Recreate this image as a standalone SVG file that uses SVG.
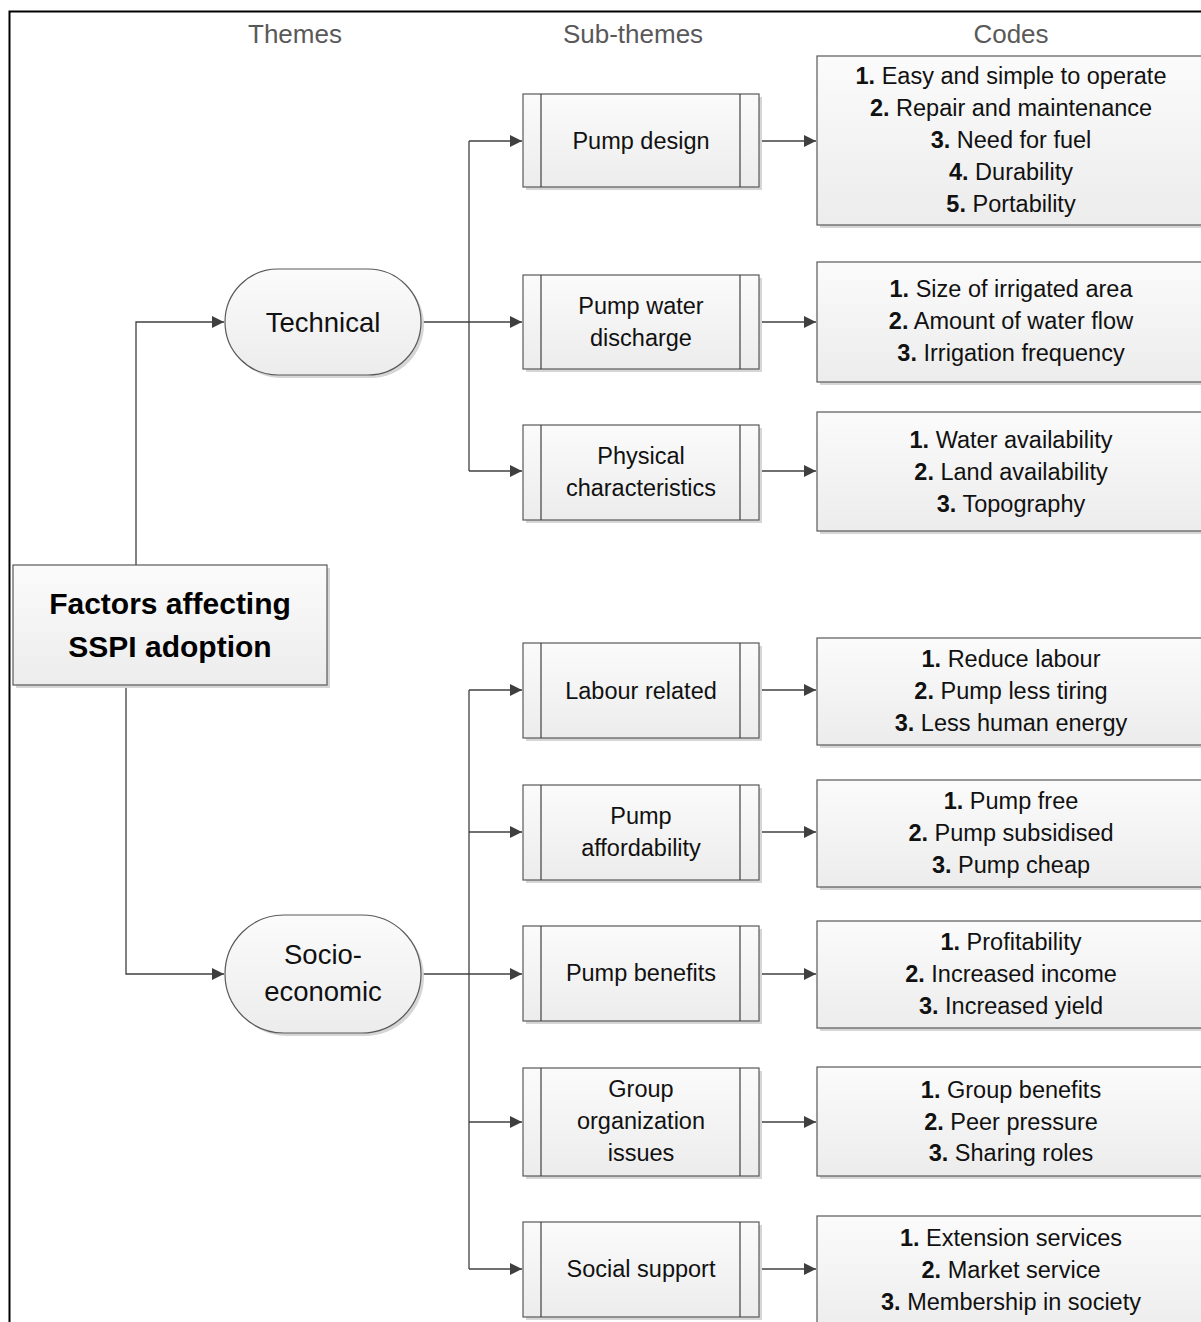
<svg xmlns="http://www.w3.org/2000/svg" width="1201" height="1322" viewBox="0 0 1201 1322">
  <defs>
    <linearGradient id="fillGrad" x1="0" y1="0" x2="0" y2="1">
      <stop offset="0" stop-color="#fbfbfb"/>
      <stop offset="1" stop-color="#ececec"/>
    </linearGradient>
    <marker id="arrow" viewBox="0 0 12 12" refX="12" refY="6" markerWidth="12" markerHeight="12" markerUnits="userSpaceOnUse" orient="auto">
      <path d="M0,0 L12,6 L0,12 Z" fill="#3f3f3f"/>
    </marker>
    <style>
      .box { fill: url(#fillGrad); stroke: #595959; stroke-width: 1.2; }
      .shadow { fill: #d6d6d6; }
      .div { stroke: #404040; stroke-width: 1.2; }
      .conn { fill: none; stroke: #404040; stroke-width: 1.3; }
      .hdr { font-family: "Liberation Sans", Arial, sans-serif; font-size: 26px; fill: #595959; text-anchor: middle; }
      .lbl { font-family: "Liberation Sans", Arial, sans-serif; font-size: 23.5px; fill: #111; text-anchor: middle; }
      .theme { font-family: "Liberation Sans", Arial, sans-serif; font-size: 27.5px; fill: #111; text-anchor: middle; }
      .title { font-family: "Liberation Sans", Arial, sans-serif; font-size: 30px; font-weight: bold; fill: #000; text-anchor: middle; }
      .num { font-weight: bold; }
    </style>
  </defs>

  <rect width="1201" height="1322" fill="#ffffff"/>

  <!-- outer frame -->
  <path d="M1210,11.5 H9.5 V1330" fill="none" stroke="#000" stroke-width="2"/>

  <!-- column headers -->
  <text class="hdr" x="295" y="43">Themes</text>
  <text class="hdr" x="633" y="43">Sub-themes</text>
  <text class="hdr" x="1011" y="43">Codes</text>

  <!-- connectors -->
  <g id="connectors">
    <path class="conn" d="M136,565 V322 H224" marker-end="url(#arrow)"/>
    <path class="conn" d="M126,685 V974 H224" marker-end="url(#arrow)"/>

    <path class="conn" d="M421,322 H469"/>
    <path class="conn" d="M469,141 V471"/>
    <path class="conn" d="M469,141 H522" marker-end="url(#arrow)"/>
    <path class="conn" d="M469,322 H522" marker-end="url(#arrow)"/>
    <path class="conn" d="M469,471 H522" marker-end="url(#arrow)"/>

    <path class="conn" d="M421,974 H469"/>
    <path class="conn" d="M469,690 V1269"/>
    <path class="conn" d="M469,690 H522" marker-end="url(#arrow)"/>
    <path class="conn" d="M469,832 H522" marker-end="url(#arrow)"/>
    <path class="conn" d="M469,974 H522" marker-end="url(#arrow)"/>
    <path class="conn" d="M469,1122 H522" marker-end="url(#arrow)"/>
    <path class="conn" d="M469,1269 H522" marker-end="url(#arrow)"/>

    <path class="conn" d="M759,141 H816" marker-end="url(#arrow)"/>
    <path class="conn" d="M759,322 H816" marker-end="url(#arrow)"/>
    <path class="conn" d="M759,471 H816" marker-end="url(#arrow)"/>
    <path class="conn" d="M759,690 H816" marker-end="url(#arrow)"/>
    <path class="conn" d="M759,832 H816" marker-end="url(#arrow)"/>
    <path class="conn" d="M759,974 H816" marker-end="url(#arrow)"/>
    <path class="conn" d="M759,1122 H816" marker-end="url(#arrow)"/>
    <path class="conn" d="M759,1269 H816" marker-end="url(#arrow)"/>
  </g>

  <!-- root -->
  <g id="root">
    <rect class="shadow" x="16" y="568" width="314" height="120"/>
    <rect class="box" x="13" y="565" width="314" height="120"/>
    <text class="title" x="170" y="614">Factors affecting</text>
    <text class="title" x="170" y="657">SSPI adoption</text>
  </g>

  <!-- themes -->
  <g id="theme-technical">
    <rect class="shadow" x="228" y="272" width="196" height="106" rx="53"/>
    <rect class="box" x="225" y="269" width="196" height="106" rx="53"/>
    <text class="theme" x="323" y="332">Technical</text>
  </g>
  <g id="theme-socio">
    <rect class="shadow" x="228" y="918" width="196" height="118" rx="59"/>
    <rect class="box" x="225" y="915" width="196" height="118" rx="59"/>
    <text class="theme" x="323" y="964">Socio-</text>
    <text class="theme" x="323" y="1001">economic</text>
  </g>

  <!-- sub-themes -->
  <g id="sub-pump-design">
    <rect class="shadow" x="526" y="97" width="236" height="93"/>
    <rect class="box" x="523" y="94" width="236" height="93"/>
    <line class="div" x1="541" y1="94" x2="541" y2="187"/>
    <line class="div" x1="740" y1="94" x2="740" y2="187"/>
    <text class="lbl" x="641" y="149">Pump design</text>
  </g>
  <g id="sub-water-discharge">
    <rect class="shadow" x="526" y="278" width="236" height="94"/>
    <rect class="box" x="523" y="275" width="236" height="94"/>
    <line class="div" x1="541" y1="275" x2="541" y2="369"/>
    <line class="div" x1="740" y1="275" x2="740" y2="369"/>
    <text class="lbl" x="641" y="314">Pump water</text>
    <text class="lbl" x="641" y="346">discharge</text>
  </g>
  <g id="sub-physical">
    <rect class="shadow" x="526" y="428" width="236" height="95"/>
    <rect class="box" x="523" y="425" width="236" height="95"/>
    <line class="div" x1="541" y1="425" x2="541" y2="520"/>
    <line class="div" x1="740" y1="425" x2="740" y2="520"/>
    <text class="lbl" x="641" y="464">Physical</text>
    <text class="lbl" x="641" y="496">characteristics</text>
  </g>
  <g id="sub-labour">
    <rect class="shadow" x="526" y="646" width="236" height="95"/>
    <rect class="box" x="523" y="643" width="236" height="95"/>
    <line class="div" x1="541" y1="643" x2="541" y2="738"/>
    <line class="div" x1="740" y1="643" x2="740" y2="738"/>
    <text class="lbl" x="641" y="699">Labour related</text>
  </g>
  <g id="sub-affordability">
    <rect class="shadow" x="526" y="788" width="236" height="95"/>
    <rect class="box" x="523" y="785" width="236" height="95"/>
    <line class="div" x1="541" y1="785" x2="541" y2="880"/>
    <line class="div" x1="740" y1="785" x2="740" y2="880"/>
    <text class="lbl" x="641" y="824">Pump</text>
    <text class="lbl" x="641" y="856">affordability</text>
  </g>
  <g id="sub-benefits">
    <rect class="shadow" x="526" y="929" width="236" height="95"/>
    <rect class="box" x="523" y="926" width="236" height="95"/>
    <line class="div" x1="541" y1="926" x2="541" y2="1021"/>
    <line class="div" x1="740" y1="926" x2="740" y2="1021"/>
    <text class="lbl" x="641" y="981">Pump benefits</text>
  </g>
  <g id="sub-group">
    <rect class="shadow" x="526" y="1071" width="236" height="108"/>
    <rect class="box" x="523" y="1068" width="236" height="108"/>
    <line class="div" x1="541" y1="1068" x2="541" y2="1176"/>
    <line class="div" x1="740" y1="1068" x2="740" y2="1176"/>
    <text class="lbl" x="641" y="1097">Group</text>
    <text class="lbl" x="641" y="1129">organization</text>
    <text class="lbl" x="641" y="1161">issues</text>
  </g>
  <g id="sub-social">
    <rect class="shadow" x="526" y="1225" width="236" height="95"/>
    <rect class="box" x="523" y="1222" width="236" height="95"/>
    <line class="div" x1="541" y1="1222" x2="541" y2="1317"/>
    <line class="div" x1="740" y1="1222" x2="740" y2="1317"/>
    <text class="lbl" x="641" y="1277">Social support</text>
  </g>

  <!-- codes -->
  <g id="codes-design">
    <rect class="shadow" x="820" y="59" width="400" height="169"/>
    <rect class="box" x="817" y="56" width="400" height="169"/>
    <text class="lbl" x="1011" y="84"><tspan class="num">1.</tspan> Easy and simple to operate</text>
    <text class="lbl" x="1011" y="116"><tspan class="num">2.</tspan> Repair and maintenance</text>
    <text class="lbl" x="1011" y="148"><tspan class="num">3.</tspan> Need for fuel</text>
    <text class="lbl" x="1011" y="180"><tspan class="num">4.</tspan> Durability</text>
    <text class="lbl" x="1011" y="212"><tspan class="num">5.</tspan> Portability</text>
  </g>
  <g id="codes-discharge">
    <rect class="shadow" x="820" y="265" width="400" height="120"/>
    <rect class="box" x="817" y="262" width="400" height="120"/>
    <text class="lbl" x="1011" y="297"><tspan class="num">1.</tspan> Size of irrigated area</text>
    <text class="lbl" x="1011" y="329"><tspan class="num">2.</tspan> Amount of water flow</text>
    <text class="lbl" x="1011" y="361"><tspan class="num">3.</tspan> Irrigation frequency</text>
  </g>
  <g id="codes-physical">
    <rect class="shadow" x="820" y="415" width="400" height="119"/>
    <rect class="box" x="817" y="412" width="400" height="119"/>
    <text class="lbl" x="1011" y="448"><tspan class="num">1.</tspan> Water availability</text>
    <text class="lbl" x="1011" y="480"><tspan class="num">2.</tspan> Land availability</text>
    <text class="lbl" x="1011" y="512"><tspan class="num">3.</tspan> Topography</text>
  </g>
  <g id="codes-labour">
    <rect class="shadow" x="820" y="641" width="400" height="107"/>
    <rect class="box" x="817" y="638" width="400" height="107"/>
    <text class="lbl" x="1011" y="667"><tspan class="num">1.</tspan> Reduce labour</text>
    <text class="lbl" x="1011" y="699"><tspan class="num">2.</tspan> Pump less tiring</text>
    <text class="lbl" x="1011" y="731"><tspan class="num">3.</tspan> Less human energy</text>
  </g>
  <g id="codes-affordability">
    <rect class="shadow" x="820" y="783" width="400" height="107"/>
    <rect class="box" x="817" y="780" width="400" height="107"/>
    <text class="lbl" x="1011" y="809"><tspan class="num">1.</tspan> Pump free</text>
    <text class="lbl" x="1011" y="841"><tspan class="num">2.</tspan> Pump subsidised</text>
    <text class="lbl" x="1011" y="873"><tspan class="num">3.</tspan> Pump cheap</text>
  </g>
  <g id="codes-benefits">
    <rect class="shadow" x="820" y="924" width="400" height="107"/>
    <rect class="box" x="817" y="921" width="400" height="107"/>
    <text class="lbl" x="1011" y="950"><tspan class="num">1.</tspan> Profitability</text>
    <text class="lbl" x="1011" y="982"><tspan class="num">2.</tspan> Increased income</text>
    <text class="lbl" x="1011" y="1014"><tspan class="num">3.</tspan> Increased yield</text>
  </g>
  <g id="codes-group">
    <rect class="shadow" x="820" y="1070" width="400" height="109"/>
    <rect class="box" x="817" y="1067" width="400" height="109"/>
    <text class="lbl" x="1011" y="1098"><tspan class="num">1.</tspan> Group benefits</text>
    <text class="lbl" x="1011" y="1130"><tspan class="num">2.</tspan> Peer pressure</text>
    <text class="lbl" x="1011" y="1161"><tspan class="num">3.</tspan> Sharing roles</text>
  </g>
  <g id="codes-social">
    <rect class="shadow" x="820" y="1219" width="400" height="120"/>
    <rect class="box" x="817" y="1216" width="400" height="120"/>
    <text class="lbl" x="1011" y="1246"><tspan class="num">1.</tspan> Extension services</text>
    <text class="lbl" x="1011" y="1278"><tspan class="num">2.</tspan> Market service</text>
    <text class="lbl" x="1011" y="1310"><tspan class="num">3.</tspan> Membership in society</text>
  </g>
</svg>
